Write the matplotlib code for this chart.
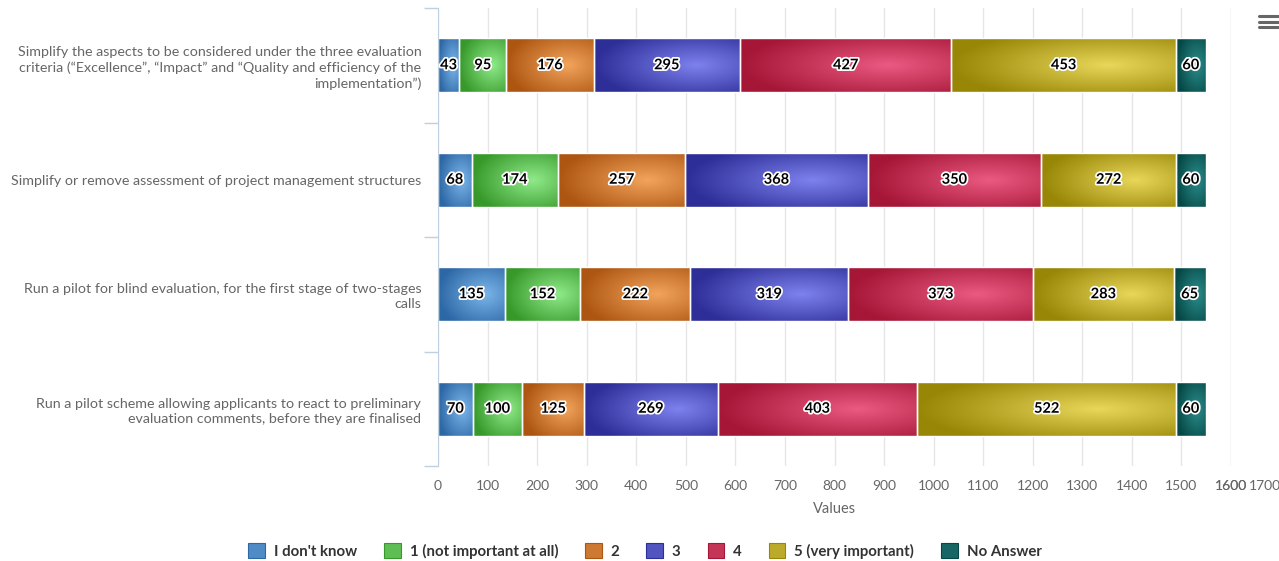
import numpy as np
import matplotlib
matplotlib.use("Agg")
import matplotlib.pyplot as plt
import matplotlib.patheffects as pe
from matplotlib.patches import Rectangle
from matplotlib.lines import Line2D
from matplotlib.colors import to_rgb

plt.rcParams['font.family'] = ['Lato', 'DejaVu Sans']

categories = [
    "Simplify the aspects to be considered under the three evaluation\n"
    "criteria (\u201cExcellence\u201d, \u201cImpact\u201d and \u201cQuality and efficiency of the\n"
    "implementation\u201d)",
    "Simplify or remove assessment of project management structures",
    "Run a pilot for blind evaluation, for the first stage of two-stages\ncalls",
    "Run a pilot scheme allowing applicants to react to preliminary\n"
    "evaluation comments, before they are finalised",
]

series_names = ["I don't know", "1 (not important at all)", "2", "3", "4",
                "5 (very important)", "No Answer"]
s_dont_know = [43, 68, 135, 70]
s_1 = [95, 174, 152, 100]
s_2 = [176, 257, 222, 125]
s_3 = [295, 368, 319, 269]
s_4 = [427, 350, 373, 403]
s_5 = [453, 272, 283, 522]
s_na = [60, 60, 65, 60]
series_values = [s_dont_know, s_1, s_2, s_3, s_4, s_5, s_na]

x_ticks = list(range(0, 1700, 100))

# (light centre, dark edge)
palette = [
    ("#7bb5ea", "#2d68a6"),
    ("#90ea8a", "#37992a"),
    ("#f3a45c", "#ad5612"),
    ("#7e82ee", "#2e2e98"),
    ("#ea5a82", "#a61636"),
    ("#e8d75a", "#988606"),
    ("#2b8c8a", "#054846"),
]

W, H = 1279, 561
fig = plt.figure(figsize=(W / 100, H / 100), dpi=100)
ax = fig.add_axes([438 / W, 1 - 466 / H, (1231 - 438) / W, (466 - 8) / H])

ypos = np.arange(len(categories))
left = np.zeros(len(categories))


def gradient_img(light, dark, nx=160, ny=40):
    u = np.linspace(0, 1, nx)
    v = np.linspace(0, 1, ny)
    U, V = np.meshgrid(u, v)
    d = np.sqrt((U - 0.7) ** 2 + (V - 0.5) ** 2) / 0.7
    d = np.clip(d, 0, 1)[..., None]
    l = np.array(to_rgb(light))
    k = np.array(to_rgb(dark))
    return l * (1 - d) + k * d


for vals, name, (light, dark) in zip(series_values, series_names, palette):
    bars = ax.barh(ypos, vals, left=left, height=0.47, color=light,
                   edgecolor='white', linewidth=1, zorder=4, label=name)
    img = gradient_img(light, dark)
    for p in bars.patches:
        x0, y0 = p.get_x(), p.get_y()
        w, h = p.get_width(), p.get_height()
        im = ax.imshow(img, extent=[x0, x0 + w, y0 + h, y0], aspect='auto',
                       interpolation='bilinear', zorder=3)
        im.set_clip_path(p)
        p.set_facecolor('none')
    ax.bar_label(bars, labels=[str(v) for v in vals], label_type='center',
                 fontsize=10.5, fontweight='bold', color='black', zorder=6,
                 path_effects=[pe.withStroke(linewidth=2.5, foreground='white')])
    left = left + np.array(vals)

ax.set_xlim(0, 1600)
ax.set_ylim(len(categories) - 0.5, -0.5)
ax.set_xticks(x_ticks + [1600])
ax.set_xticklabels([str(t) for t in x_ticks] + ["1600"])
ax.tick_params(axis='x', length=0, pad=10, labelsize=10, labelcolor='#666666')
ax.text(1637, -10 / 72 * 100 / 458, "1700", transform=ax.get_xaxis_transform(),
        ha='left', va='top', fontsize=10, color='#666666', clip_on=False)

ax.set_yticks(ypos)
ax.set_yticklabels(categories, fontsize=10.3, color='#666666', linespacing=1.3)
for t in ax.get_yticklabels():
    t.set_multialignment('right')
ax.tick_params(axis='y', which='major', length=0, pad=12)
ax.set_yticks(np.arange(-0.5, len(categories)), minor=True)
ax.tick_params(axis='y', which='minor', length=10, width=1, color='#c0d0e0')

ax.grid(axis='x', color='#e6e6e6', linewidth=1, zorder=0)
ax.set_axisbelow(True)
for s in ['top', 'right', 'bottom']:
    ax.spines[s].set_visible(False)
ax.spines['left'].set_color('#c0d0e0')
ax.spines['left'].set_zorder(5)

ax.set_xlabel("Values", fontsize=10.5, color='#666666', labelpad=7)


def mid(c1, c2):
    a, b = np.array(to_rgb(c1)), np.array(to_rgb(c2))
    return tuple(0.45 * a + 0.55 * b)


handles = [Rectangle((0, 0), 1, 1, facecolor=mid(light, dark), edgecolor=dark,
                     linewidth=0.8) for light, dark in palette]
leg = fig.legend(handles, series_names, loc='center',
                 bbox_to_anchor=(645 / W, 1 - 551 / H), ncol=7, frameon=False,
                 handlelength=1.1, handleheight=1.1, handletextpad=0.6,
                 columnspacing=1.8,
                 prop={'weight': 'bold', 'size': 10.8})
for t in leg.get_texts():
    t.set_color('#333333')

for yy in (15.7, 21.7, 27.3):
    fig.add_artist(Line2D([1259 / W, 1278 / W], [1 - yy / H, 1 - yy / H],
                          color='#666666', linewidth=2.2, solid_capstyle='round'))

fig.savefig("out.png", dpi=100)
